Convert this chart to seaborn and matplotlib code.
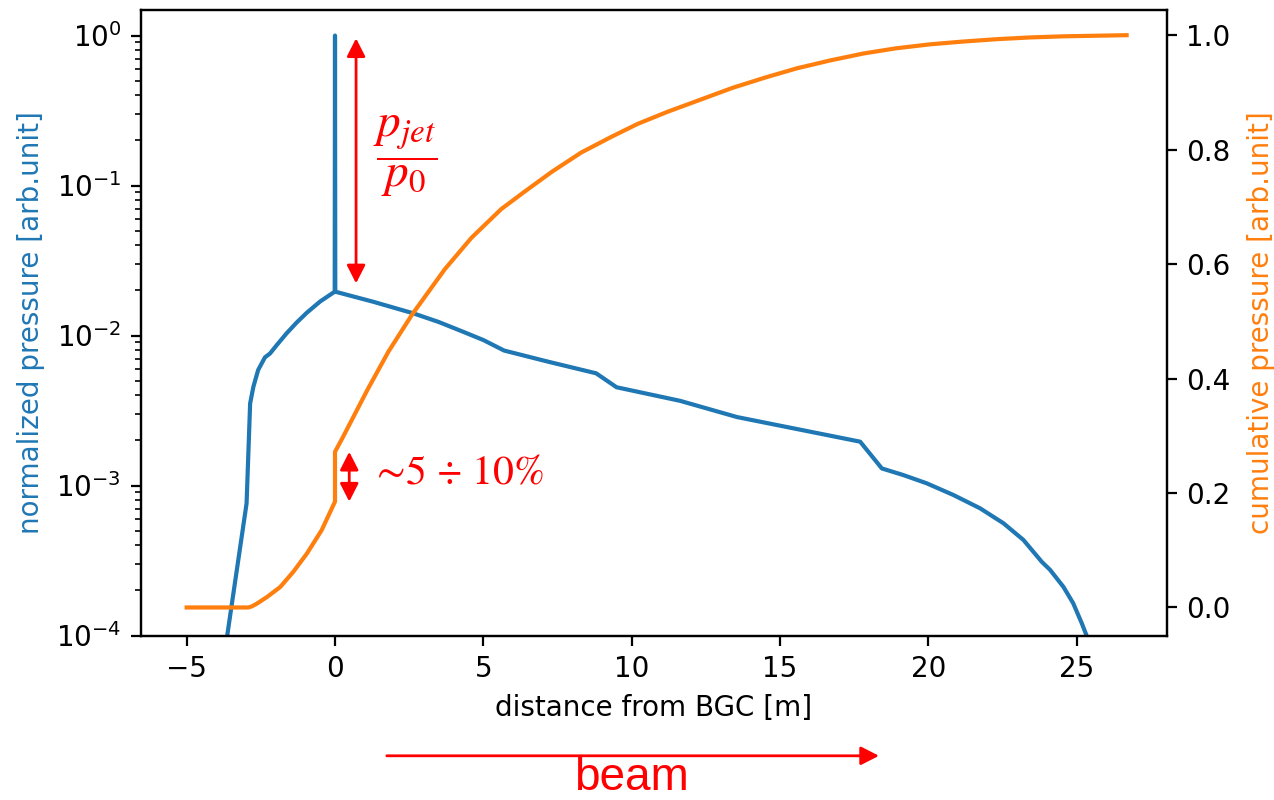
import matplotlib
matplotlib.use("Agg")
import matplotlib.pyplot as plt
from matplotlib.patches import FancyArrowPatch
import seaborn as sns

# Normalized pressure along the beam line (left axis, log scale)
PRESSURE_X = [-3.75, -2.98, -2.92, -2.86, -2.75, -2.59, -2.36, -2.19, -1.96, -1.63,
              -1.30, -0.95, -0.50, -0.01, 0.0, 0.01, 1.29, 2.64, 3.50, 4.32,
              5.00, 5.70, 7.20, 8.80, 9.49, 11.63, 13.55, 17.70, 18.43, 19.15,
              19.94, 20.84, 21.74, 22.53, 23.20, 23.82, 24.10, 24.55, 24.88, 25.17,
              25.33, 25.45]
PRESSURE_Y = [6.93e-5, 7.60e-4, 1.64e-3, 3.53e-3, 4.56e-3, 5.89e-3, 7.16e-3, 7.59e-3, 8.65e-3, 1.035e-2,
              1.216e-2, 1.419e-2, 1.687e-2, 1.96e-2, 1.0, 1.96e-2, 1.679e-2, 1.406e-2, 1.230e-2, 1.059e-2,
              9.33e-3, 7.94e-3, 6.68e-3, 5.60e-3, 4.52e-3, 3.67e-3, 2.86e-3, 1.96e-3, 1.30e-3, 1.175e-3,
              1.035e-3, 8.65e-4, 7.05e-4, 5.60e-4, 4.34e-4, 3.10e-4, 2.74e-4, 2.11e-4, 1.64e-4, 1.205e-4,
              1.0e-4, 8.3e-5]

# Cumulative pressure (right axis, linear)
CUMULATIVE_X = [-5.0, -2.92, -2.80, -2.64, -2.30, -1.85, -1.41, -0.95, -0.45, 0.0,
                0.0, 0.25, 0.60, 1.10, 1.80, 2.60, 3.70, 4.60, 5.60, 6.40,
                7.30, 8.30, 9.30, 10.20, 11.20, 12.30, 13.40, 14.50, 15.56, 16.70,
                17.81, 18.90, 20.05, 21.20, 22.30, 23.40, 24.55, 25.60, 26.68]
CUMULATIVE_Y = [0.0, 0.0, 0.002, 0.0065, 0.018, 0.0356, 0.062, 0.094, 0.135, 0.185,
                0.272, 0.296, 0.331, 0.381, 0.447, 0.512, 0.591, 0.646, 0.696, 0.727,
                0.761, 0.795, 0.822, 0.845, 0.866, 0.887, 0.908, 0.926, 0.942, 0.956,
                0.968, 0.977, 0.984, 0.989, 0.993, 0.996, 0.998, 0.999, 1.0]

BLUE = "#1f77b4"
ORANGE = "#ff7f0e"
RED = "#ff0000"
XLIM = (-6.55, 28.04)

# Jet spike: peak and the background level right beside it
jet_i = PRESSURE_Y.index(max(PRESSURE_Y))
jet_peak = PRESSURE_Y[jet_i]
jet_base = PRESSURE_Y[jet_i - 1]
# Step of the cumulative curve at the jet position (repeated x value)
step_i = next(i for i in range(1, len(CUMULATIVE_X)) if CUMULATIVE_X[i] == CUMULATIVE_X[i - 1])
step_low, step_high = CUMULATIVE_Y[step_i - 1], CUMULATIVE_Y[step_i]

fig = plt.figure(figsize=(6.37, 4.0), dpi=200)
ax = fig.add_axes([0.1104, 0.2056, 0.8056, 0.7819])
ax.set_yscale("log")
sns.lineplot(x=PRESSURE_X, y=PRESSURE_Y, ax=ax, color=BLUE, linewidth=1.5,
             estimator=None, sort=False)
ax.set_xlim(*XLIM)
ax.set_ylim(1e-4, 1.48)
ax.set_xlabel("distance from BGC [m]")
ax.set_ylabel("normalized pressure [arb.unit]", color=BLUE, labelpad=4)

ax2 = ax.twinx()
sns.lineplot(x=CUMULATIVE_X, y=CUMULATIVE_Y, ax=ax2, color=ORANGE, linewidth=1.5,
             estimator=None, sort=False)
ax2.set_xlim(*XLIM)
ax2.set_ylim(-0.049, 1.044)
ax2.set_ylabel("cumulative pressure [arb.unit]", color=ORANGE, labelpad=6)

head = "<|-|>,head_length=0.55,head_width=0.28"

# Jet pressure ratio
ax.annotate("", xy=(0.71, jet_peak), xytext=(0.71, jet_base),
            arrowprops=dict(arrowstyle=head, color=RED, lw=1.0, shrinkA=3, shrinkB=1))
ax.text(2.36, 0.158, r"$\dfrac{p_{jet}}{p_0}$", color=RED, fontsize=17,
        ha="center", va="center", math_fontfamily="stix")

# Jet share of the integrated pressure
ax2.annotate("", xy=(0.48, step_high), xytext=(0.48, step_low),
             arrowprops=dict(arrowstyle=head, color=RED, lw=1.0, shrinkA=0, shrinkB=0))
ax2.text(1.18, 0.237, r"$\sim\!5 \,\div\, 10\%$", color=RED, fontsize=15,
         ha="left", va="center", math_fontfamily="stix")

# Beam direction
beam = FancyArrowPatch((386.8 / 1274, 1 - 755.8 / 800), (879 / 1274, 1 - 755.8 / 800),
                       transform=fig.transFigure,
                       arrowstyle="-|>,head_length=0.55,head_width=0.28",
                       mutation_scale=10, color=RED, lw=1.0, shrinkA=0, shrinkB=0)
fig.patches.append(beam)
fig.text(631 / 1274, 1 - 790 / 800, "beam", color=RED, fontsize=16.5,
         family="Liberation Sans", ha="center", va="baseline")

fig.savefig("out.png", dpi=200)
